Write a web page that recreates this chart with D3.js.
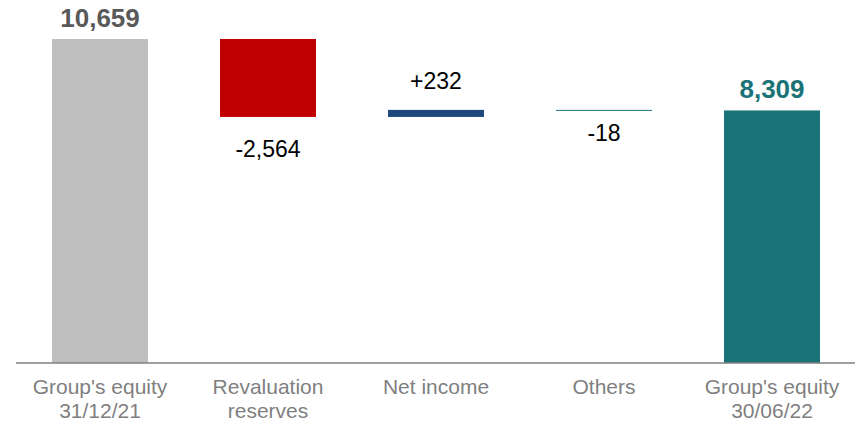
<!DOCTYPE html>
<html><head><meta charset="utf-8">
<script src="https://cdn.jsdelivr.net/npm/d3@7"></script>
<style>body{margin:0;background:#fff}svg{display:block}text{font-family:"Liberation Sans",Arial,sans-serif}</style>
</head><body><svg id="c" width="855" height="425"></svg>
<script>
const categories = [["Group's equity","31/12/21"],["Revaluation","reserves"],["Net income"],["Others"],["Group's equity","30/06/22"]];
const kinds = ["total","delta","delta","delta","total"];
const values = [10659, -2564, 232, -18, 8309];
const valueLabels = ["10,659","-2,564","+232","-18","8,309"];
const colors = ["#BFBFBF","#C00000","#1F497D","#1A7377","#1A7377"];

const svg = d3.select("#c");
const baseY = 363, topY = 39;
const x = d3.scaleBand().domain(d3.range(values.length)).range([16, 856]).paddingInner(72/168).paddingOuter(36/168);
const y = d3.scaleLinear().domain([0, values[0]]).range([baseY, topY]);

let cum = 0;
const bars = values.map((v,i)=>{
  let y0,y1;
  if(kinds[i]==="total"){ y0=0; y1=v; cum=v; }
  else { y0=cum; y1=cum+v; cum=y1; }
  return {i, v, lo:Math.min(y0,y1), hi:Math.max(y0,y1)};
});

svg.selectAll("rect.bar").data(bars).join("rect").attr("class","bar")
  .attr("x",d=>x(d.i)).attr("width",x.bandwidth())
  .attr("y",d=>y(d.hi)).attr("height",d=>Math.max(1,y(d.lo)-y(d.hi)))
  .attr("fill",(d)=>colors[d.i]);

// axis
const axis = svg.append("g").attr("transform",`translate(0,${baseY})`).call(d3.axisBottom(x).tickSize(0).tickFormat(""));
axis.select(".domain").attr("stroke","#808080").attr("stroke-width",1.5).attr("d","M16,0H855");

// category labels
const cl = svg.append("g");
categories.forEach((lines,i)=>{
  const t = cl.append("text").attr("x",x(i)+x.bandwidth()/2).attr("y",394)
    .attr("text-anchor","middle").attr("font-size",21).attr("fill","#7F7F7F");
  lines.forEach((l,j)=>t.append("tspan").attr("x",x(i)+x.bandwidth()/2).attr("dy",j?24:0).text(l));
});

// value labels
bars.forEach(d=>{
  const cx = x(d.i)+x.bandwidth()/2;
  const t = svg.append("text").attr("x",cx).attr("text-anchor","middle").text(valueLabels[d.i]);
  if(kinds[d.i]==="total"){
    t.attr("y",y(d.hi)-12).attr("font-size",26).attr("font-weight","bold")
     .attr("fill", d.i===0?"#595959":colors[d.i]);
  } else if(d.v<0){
    const h = y(d.lo)-y(d.hi);
    t.attr("y",y(d.lo)+(h<3?31:40)).attr("font-size",23).attr("fill","#000");
  } else {
    t.attr("y",y(d.hi)-21).attr("font-size",23).attr("fill","#000");
  }
});
</script></body></html>
